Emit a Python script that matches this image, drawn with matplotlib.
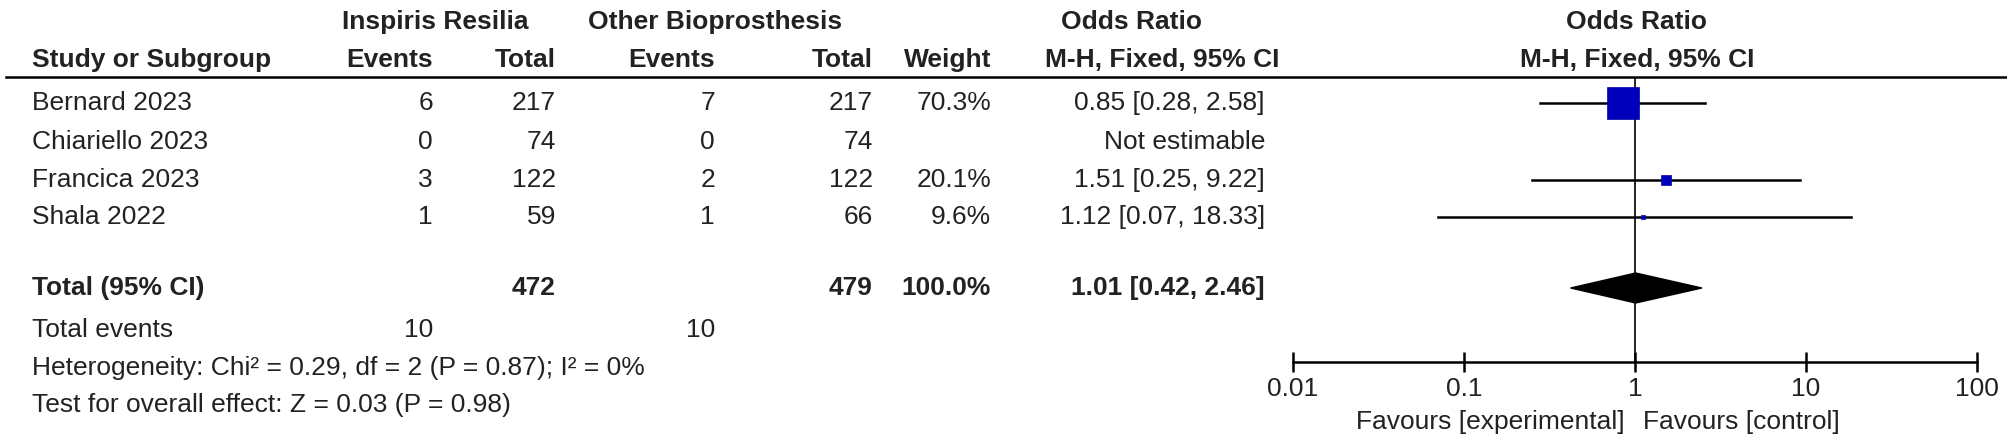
import matplotlib
matplotlib.use("Agg")
import matplotlib.pyplot as plt
import numpy as np

plt.rcParams['font.family'] = ['Liberation Sans', 'DejaVu Sans']

studies = ["Bernard 2023", "Chiariello 2023", "Francica 2023", "Shala 2022"]
exp_events = [6, 0, 3, 1]
exp_total = [217, 74, 122, 59]
ctl_events = [7, 0, 2, 1]
ctl_total = [217, 74, 122, 66]
weights = [70.3, None, 20.1, 9.6]
orr = [0.85, None, 1.51, 1.12]
lo = [0.28, None, 0.25, 0.07]
hi = [2.58, None, 9.22, 18.33]
or_text = ["0.85 [0.28, 2.58]", "Not estimable", "1.51 [0.25, 9.22]", "1.12 [0.07, 18.33]"]
tot = dict(exp_total=472, ctl_total=479, weight="100.0%", orr=1.01, lo=0.42, hi=2.46,
           text="1.01 [0.42, 2.46]", exp_events=10, ctl_events=10)
ticks = [0.01, 0.1, 1, 10, 100]
tick_labels = ["0.01", "0.1", "1", "10", "100"]

W, H = 2008, 440
fig = plt.figure(figsize=(W/100, H/100), dpi=100)
ax = fig.add_axes([0, 0, 1, 1])
ax.set_xlim(0, W); ax.set_ylim(H, 0); ax.axis('off')
fs = 19
col = '#222222'
def t(x, y, s, ha='left', bold=False):
    ax.text(x, y, s, ha=ha, va='center', fontsize=fs, fontweight='bold' if bold else 'normal', color=col)

t(435, 22, "Inspiris Resilia", 'center', True)
t(715, 22, "Other Bioprosthesis", 'center', True)
t(1132, 22, "Odds Ratio", 'center', True)
t(1637, 22, "Odds Ratio", 'center', True)
t(32, 60, "Study or Subgroup", bold=True)
t(433, 60, "Events", 'right', True)
t(556, 60, "Total", 'right', True)
t(715, 60, "Events", 'right', True)
t(873, 60, "Total", 'right', True)
t(991, 60, "Weight", 'right', True)
t(1279, 60, "M-H, Fixed, 95% CI", 'right', True)
t(1637, 60, "M-H, Fixed, 95% CI", 'center', True)
ax.plot([6, 2008], [77, 77], color='black', lw=1.8)

rows_y = [103, 142, 180, 217]
for i, y in enumerate(rows_y):
    t(32, y, studies[i])
    t(433, y, str(exp_events[i]), 'right')
    t(556, y, str(exp_total[i]), 'right')
    t(715, y, str(ctl_events[i]), 'right')
    t(873, y, str(ctl_total[i]), 'right')
    if weights[i] is not None:
        t(991, y, f"{weights[i]}%", 'right')
    t(1265, y, or_text[i], 'right')
ty = 288
t(32, ty, "Total (95% CI)", bold=True)
t(556, ty, str(tot['exp_total']), 'right', True)
t(873, ty, str(tot['ctl_total']), 'right', True)
t(991, ty, tot['weight'], 'right', True)
t(1265, ty, tot['text'], 'right', True)
t(32, 330, "Total events")
t(433, 330, str(tot['exp_events']), 'right')
t(715, 330, str(tot['ctl_events']), 'right')
t(32, 368, "Heterogeneity: Chi² = 0.29, df = 2 (P = 0.87); I² = 0%")
t(32, 405, "Test for overall effect: Z = 0.03 (P = 0.98)")

# forest axes
x0, x1 = 1293, 1977
ytop, ybot = 77, 362
fa = fig.add_axes([x0/W, 1-ybot/H, (x1-x0)/W, (ybot-ytop)/H])
fa.set_xscale('log'); fa.set_xlim(0.01, 100); fa.set_ylim(ybot, ytop)
fa.patch.set_alpha(0)
for s in ['top', 'left', 'right']:
    fa.spines[s].set_visible(False)
fa.spines['bottom'].set_linewidth(1.8)
fa.set_yticks([])
fa.set_xticks(ticks); fa.set_xticklabels(tick_labels, fontsize=fs, color=col)
fa.minorticks_off()
fa.tick_params(axis='x', direction='inout', length=14, width=1.8, pad=4)
fa.plot([1, 1], [ytop, ybot], color='black', lw=1.2)
for i, y in enumerate(rows_y):
    if orr[i] is None:
        continue
    fa.plot([lo[i], hi[i]], [y, y], color='black', lw=1.8)
    fa.plot([orr[i]], [y], marker='s', color='#0000bb', ms=weights[i]*0.33, mec='#0000aa', mew=0.5)
fa.fill([tot['lo'], tot['orr'], tot['hi'], tot['orr']], [ty, ty-15, ty, ty+15], color='black')
t(1625, 422, "Favours [experimental]", 'right')
t(1643, 422, "Favours [control]", 'left')
fig.savefig("out.png", dpi=100)
